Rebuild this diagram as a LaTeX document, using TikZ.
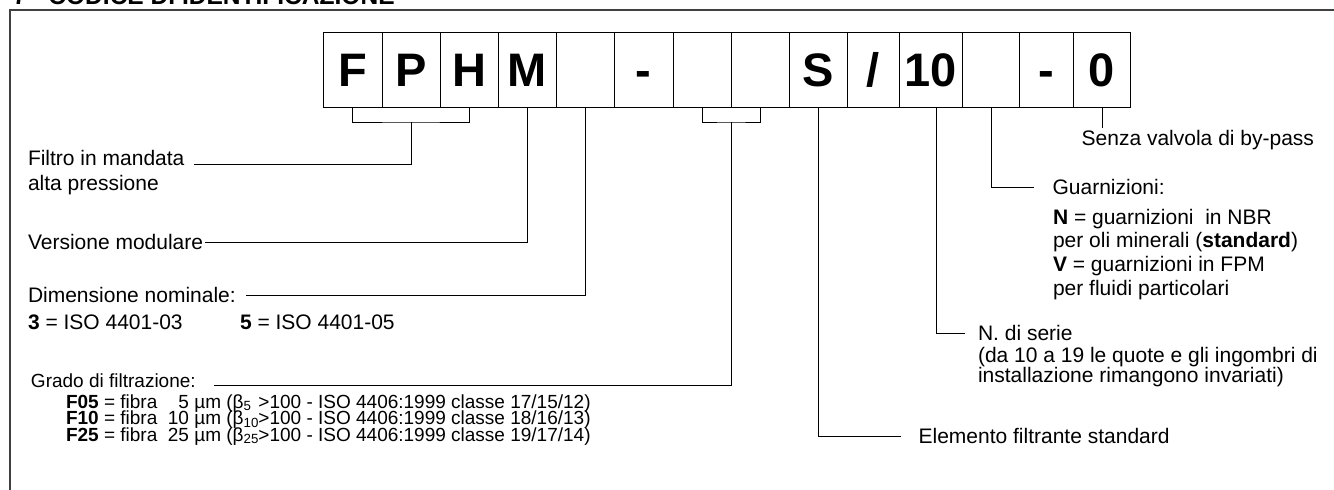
\documentclass[tikz,border=0pt]{standalone}
\usepackage{fontspec}
\setmainfont{Liberation Sans}
\usetikzlibrary{positioning}

% beta con pedice di larghezza fissa
\newcommand{\betasub}[1]{β\makebox[0.78em][l]{\textsubscript{#1}}}

\begin{document}
\begin{tikzpicture}[x=0.75pt, y=-0.75pt, every node/.style={inner sep=0pt, outer sep=0pt},
  cell/.style={draw, line width=0.75pt, minimum height=56.25pt, text height=25.2pt, text depth=0pt,
    font=\fontsize{35.25}{36}\selectfont\bfseries},
  lbl/.style={anchor=base west, font=\fontsize{15.75}{18}\selectfont},
  lblsmall/.style={anchor=base west, font=\fontsize{14.25}{16}\selectfont},
  lead/.style={line width=0.75pt}]

  \useasboundingbox (0,0) rectangle (1334,489);
  \clip (0,0) rectangle (1334,489);

  % titolo (tagliato in alto)
  \node[anchor=base west, font=\fontsize{18.4}{20}\selectfont\bfseries] (titolo) at (13,4) {7 - CODICE DI IDENTIFICAZIONE};

  % cornice
  \draw[line width=1.5pt, black!75] (10,495) -- (10,10) -- (1340,10);

  % caselle del codice
  \foreach \l/\r/\t [count=\i] in {323.5/382/F, 382/440/P, 440/498.4/H, 498.4/556/M, 556/614/{},
      614/673/-, 673/731/{}, 731/789/{}, 789/847.3/S, 847.3/899/{/}, 899/962.7/10,
      962.7/1019.3/{}, 1019.3/1073.3/-, 1073.3/1130.7/0}
    \node[cell, minimum width={(\r-\l)*0.75pt}] (b\i) at ({(\l+\r)/2},70) {\t};

  % testi a sinistra
  \node[lbl] (filtro) at (28,165.5) {Filtro in mandata};
  \node[lbl] (alta) at (28,190.5) {alta pressione};
  \node[lbl] (modul) at (28,249.5) {Versione modulare};
  \node[lbl] (dimens) at (28,302.5) {Dimensione nominale:};
  \node[lbl] (iso3) at (28,329.5) {\textbf{3} = ISO 4401-03};
  \node[lbl] (iso5) at (240,329.5) {\textbf{5} = ISO 4401-05};
  \node[lblsmall] (grado) at (31,387) {Grado di filtrazione:};
  \node[lblsmall] (f05) at (66,408) {\textbf{F05} = fibra\ \ \phantom{1}5 µm (\betasub{5}>100 - ISO 4406:1999 classe 17/15/12)};
  \node[lblsmall] (f10) at (66,424.5) {\textbf{F10} = fibra\ \ 10 µm (\betasub{10}>100 - ISO 4406:1999 classe 18/16/13)};
  \node[lblsmall] (f25) at (66,441) {\textbf{F25} = fibra\ \ 25 µm (\betasub{25}>100 - ISO 4406:1999 classe 19/17/14)};

  % testi a destra
  \node[lbl] (senza) at (1081.7,145.5) {Senza valvola di by-pass};
  \node[lbl] (guarn) at (1052.6,194.5) {Guarnizioni:};
  \node[lbl] (nbr) at (1053,224.5) {\textbf{N} = guarnizioni\ \ in NBR};
  \node[lbl] (oli) at (1053,247.5) {per oli minerali (\textbf{standard})};
  \node[lbl] (fpm) at (1053,271.5) {\textbf{V} = guarnizioni in FPM};
  \node[lbl] (fluidi) at (1053,295.5) {per fluidi particolari};
  \node[lbl] (serie) at (978,340.5) {N. di serie};
  \node[lbl] (quote) at (978,362.5) {(da 10 a 19 le quote e gli ingombri di};
  \node[lbl] (instal) at (978,382.5) {installazione rimangono invariati)};
  \node[lbl] (elem) at (918.6,443.5) {Elemento filtrante standard};

  % linee di richiamo
  \coordinate (brk) at (0,122);
  \draw[lead] (b1.south) |- (b2.south |- brk) -| (b3.south);
  \draw[lead] (b2.south |- brk) |- ([xshift=7.5pt,yshift=1pt]filtro.base east);
  \draw[lead] (b4.south) |- ([xshift=1.5pt,yshift=5pt]modul.base east);
  \draw[lead] (b5.south) |- ([xshift=7.5pt,yshift=5.6pt]dimens.base east);
  \draw[lead] (b7.south) |- (b7.south east |- brk) -| (b8.south);
  \draw[lead] (b7.south east |- brk) |- ([xshift=13.5pt,yshift=1pt]grado.base east);
  \draw[lead] (b9.south) |- ([xshift=-13pt,yshift=5.6pt]elem.base west);
  \draw[lead] ([xshift=4pt]b11.south) |- ([xshift=-10pt,yshift=5.6pt]serie.base west);
  \draw[lead] (b12.south) |- ([xshift=-14pt,yshift=5.6pt]guarn.base west);
  \draw[lead, shorten >=2pt] (b14.south) -- (b14.south |- senza.north);
\end{tikzpicture}
\end{document}
